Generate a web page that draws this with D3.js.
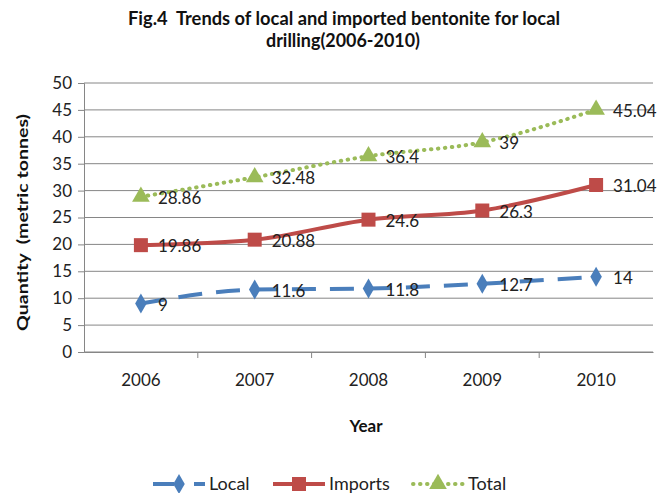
<!DOCTYPE html>
<html><head><meta charset="utf-8">
<script src="https://cdn.jsdelivr.net/npm/d3@7"></script>
<style>body{margin:0;background:#fff}svg{display:block}</style>
</head><body>
<svg id="c" width="668" height="493"></svg>
<script>
const years = ["2006","2007","2008","2009","2010"];
const local = [9, 11.6, 11.8, 12.7, 14];
const imports = [19.86, 20.88, 24.6, 26.3, 31.04];
const total = [28.86, 32.48, 36.4, 39, 45.04];
const yTicks = [0,5,10,15,20,25,30,35,40,45,50];
const seriesNames = ["Local","Imports","Total"];

const svg = d3.select("#c");
const font = "Lato, 'Open Sans', sans-serif";
const L = 84, R = 653, T = 83, B = 352;
const x = d3.scaleBand().domain(years).range([L, R]);
const y = d3.scaleLinear().domain([0, 50]).range([B, T]);

// gridlines
svg.append("g").selectAll("line").data(yTicks).join("line")
  .attr("x1", L).attr("x2", R).attr("y1", d => y(d)).attr("y2", d => y(d))
  .attr("stroke", "#868686").attr("stroke-width", 1);

// y axis
const ya = svg.append("g").attr("transform", `translate(${L},0)`)
  .call(d3.axisLeft(y).tickValues(yTicks).tickSize(6).tickPadding(6));
ya.select(".domain").attr("stroke", "#868686");
ya.selectAll(".tick line").attr("stroke", "#868686");
ya.selectAll("text").attr("font-family", font).attr("font-size", 17).attr("fill", "#222");

// x axis
const xa = svg.append("g").attr("transform", `translate(0,${B})`)
  .call(d3.axisBottom(x).tickSize(0).tickPadding(22));
xa.select(".domain").attr("stroke", "#868686");
xa.selectAll("text").attr("font-family", font).attr("font-size", 17).attr("fill", "#222");
svg.append("g").selectAll("line").data(years.slice(1)).join("line")
  .attr("x1", d => x(d)).attr("x2", d => x(d)).attr("y1", B).attr("y2", B + 6)
  .attr("stroke", "#868686");

const cx = i => x(years[i]) + x.bandwidth() / 2;
const line = d3.line().x((d, i) => cx(i)).y(d => y(d)).curve(d3.curveMonotoneX);

const defs = [
  {name: "Local", data: local, color: "#4A7EBB", dash: "24,14", marker: "diamond", legDash: "21,20,11"},
  {name: "Imports", data: imports, color: "#BE4B48", dash: null, marker: "square", legDash: null},
  {name: "Total", data: total, color: "#9BBB59", dash: "0.5,6.5", marker: "triangle", legDash: "0.5,6.5"}
];
const sym = {diamond: d3.symbolDiamond, square: d3.symbolSquare, triangle: d3.symbolTriangle};
const symSize = {diamond: 115, square: 196, triangle: 135};

defs.forEach(s => {
  svg.append("path").datum(s.data).attr("d", line).attr("fill", "none")
    .attr("stroke", s.color).attr("stroke-width", 4)
    .attr("stroke-dasharray", s.dash)
    .attr("stroke-linecap", s.marker === "triangle" ? "round" : "butt");
});
defs.forEach(s => {
  svg.append("g").selectAll("path").data(s.data).join("path")
    .attr("transform", (d, i) => `translate(${cx(i)},${y(d)})`)
    .attr("d", d3.symbol().type(sym[s.marker]).size(symSize[s.marker]))
    .attr("fill", s.color);
  svg.append("g").selectAll("text").data(s.data).join("text")
    .attr("x", (d, i) => cx(i) + 17).attr("y", d => y(d) + 7)
    .attr("font-family", font).attr("font-size", 17).attr("fill", "#222")
    .text(d => d);
});

// title
const title = svg.append("g").attr("font-family", font)
  .attr("font-weight", "bold").attr("font-size", 18).attr("fill", "#111");
title.append("text").attr("x", 128).attr("y", 25).attr("textLength", 432)
  .attr("lengthAdjust", "spacingAndGlyphs").attr("xml:space", "preserve")
  .text("Fig.4  Trends of local and imported bentonite for local");
title.append("text").attr("x", 266).attr("y", 47).attr("textLength", 154)
  .attr("lengthAdjust", "spacingAndGlyphs").text("drilling(2006-2010)");

// axis titles
svg.append("text").attr("x", 366).attr("y", 432).attr("text-anchor", "middle")
  .attr("font-family", font).attr("font-weight", "bold").attr("font-size", 17).attr("fill", "#111").text("Year");
svg.append("text").attr("transform", "translate(28,331) rotate(-90)")
  .attr("font-family", font).attr("font-weight", "bold").attr("font-size", 16).attr("fill", "#111")
  .attr("textLength", 217).attr("lengthAdjust", "spacingAndGlyphs")
  .attr("xml:space", "preserve").text("Quantity  (metric tonnes)");

// legend
const legX = [153, 273, 412];
defs.forEach((s, i) => {
  const g = svg.append("g").attr("transform", `translate(${legX[i]},484)`);
  g.append("line").attr("x1", s.marker === "triangle" ? 1 : 0).attr("x2", 52).attr("y1", 0).attr("y2", 0)
    .attr("stroke", s.color).attr("stroke-width", 4)
    .attr("stroke-dasharray", s.legDash)
    .attr("stroke-linecap", s.marker === "triangle" ? "round" : "butt");
  g.append("path").attr("transform", "translate(26,0)")
    .attr("d", d3.symbol().type(sym[s.marker]).size(symSize[s.marker])).attr("fill", s.color);
  g.append("text").attr("x", 56).attr("y", 6).attr("font-family", font).attr("font-size", 18)
    .attr("fill", "#222").text(s.name);
});
</script>
</body></html>
